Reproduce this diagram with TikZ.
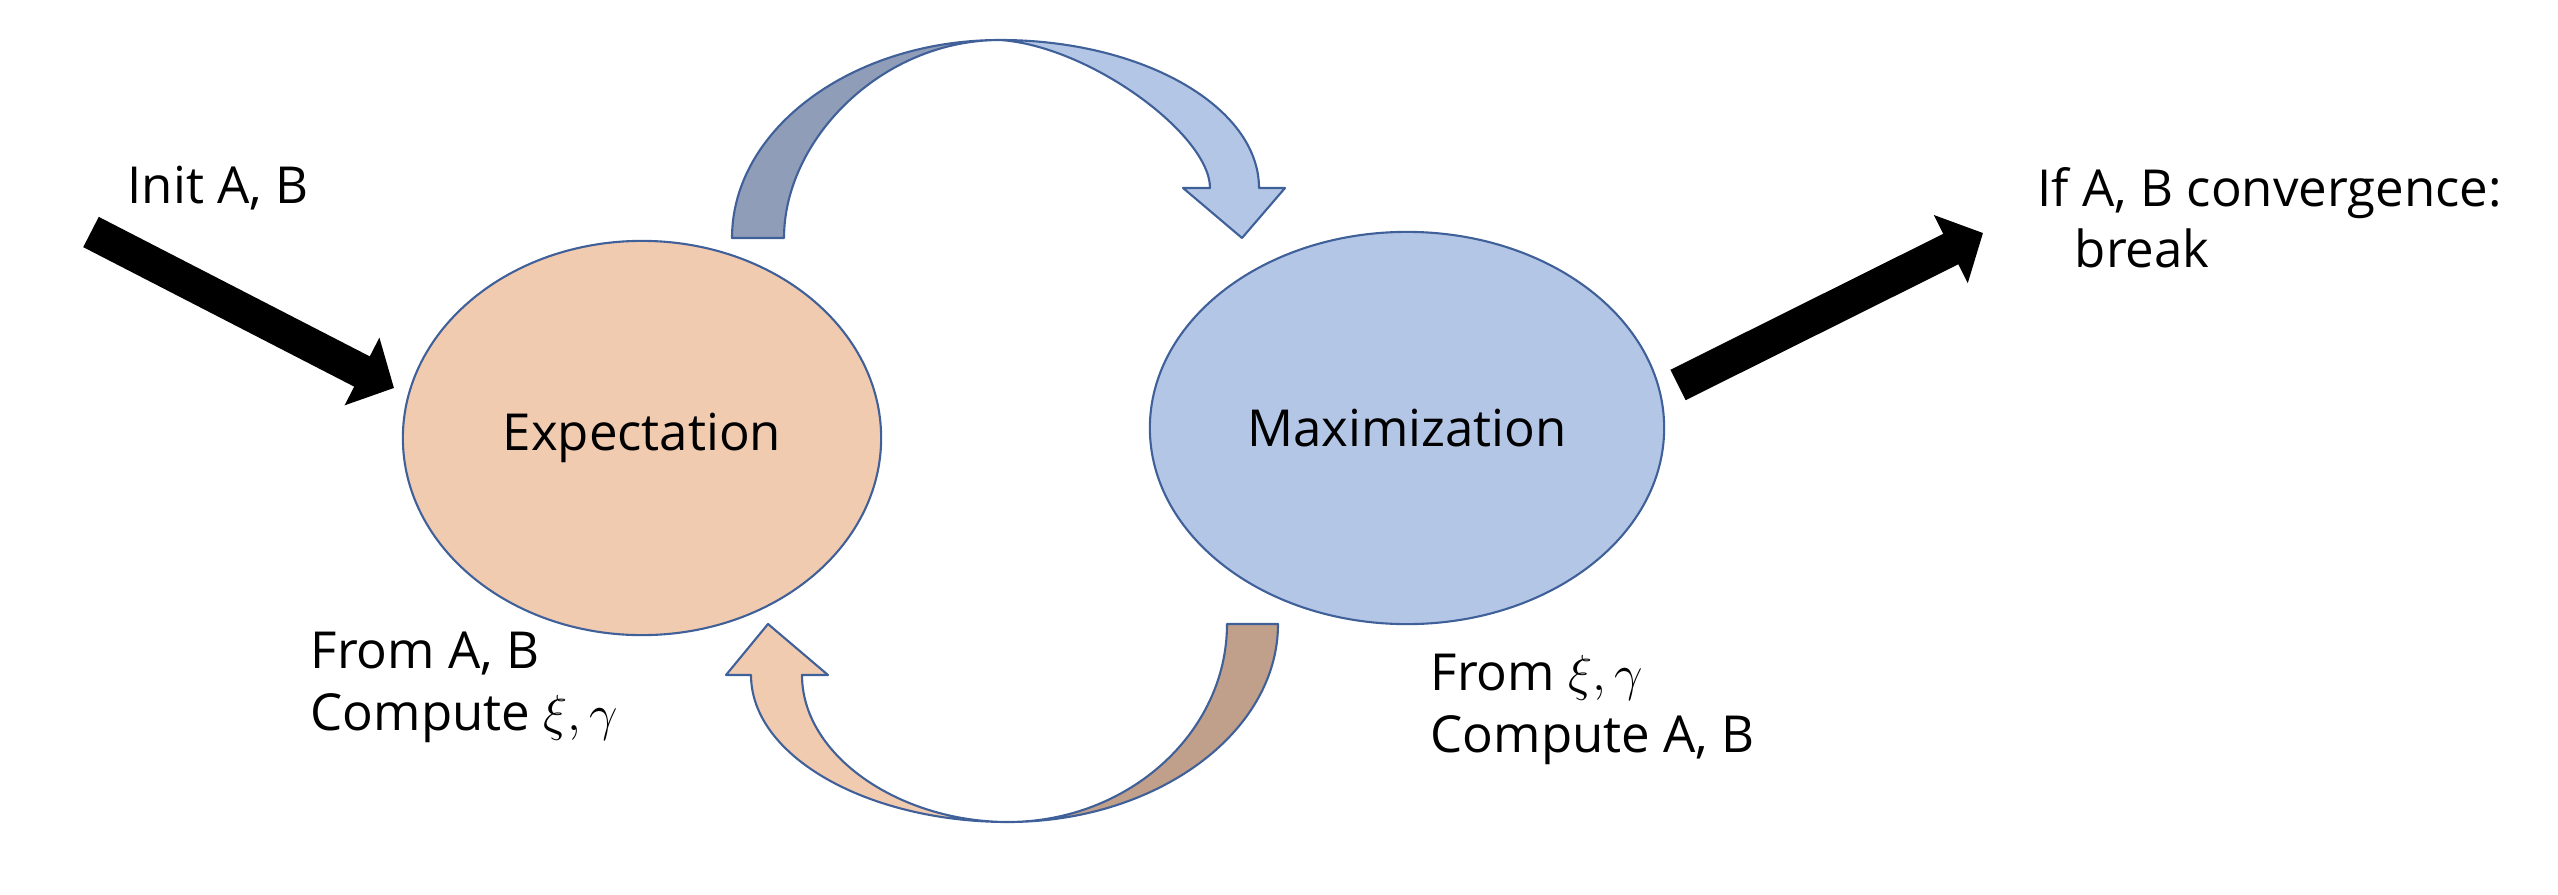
\documentclass[tikz,border=0pt]{standalone}
\usepackage{fontspec}
\setmainfont{Open Sans}
\usepackage{xcolor}
\usepackage{tikz}
\usetikzlibrary{shapes.geometric,positioning,calc,arrows.meta}

\definecolor{peach}{HTML}{F1CBAF}
\definecolor{peachdark}{HTML}{C0A08A}
\definecolor{sky}{HTML}{B4C6E5}
\definecolor{skydark}{HTML}{8F9DB8}
\definecolor{rim}{HTML}{40609A}

\tikzset{
  stage/.style={ellipse, draw=rim, line width=0.6pt, inner sep=0pt,
    font=\fontsize{14.5}{17}\selectfont},
  lbl/.style={font=\fontsize{14.5}{17.6}\selectfont, inner sep=0pt,
    align=left, anchor=base west},
  bigarrow/.style={line width=0.34cm, -{Triangle[length=0.36cm,width=0.74cm]}},
  face/.style={draw=rim, line width=0.6pt, line join=round}
}

\begin{document}
\begin{tikzpicture}[x=0.01cm, y=-0.01cm]
        \useasboundingbox (0,0) rectangle (2558,894);

        % E and M steps
        \node[stage, fill=peach, minimum width=4.78cm, minimum height=3.94cm] (E) at (642,438) {Expectation};
        \node[stage, fill=sky, minimum width=5.14cm, minimum height=3.92cm] (M) at (1407,428) {Maximization};

        % Upper curved arrow E -> M
        \draw[face, fill=skydark] (732,238) .. controls (732,129) and (852,40) .. (1000,40)
            .. controls (881,40) and (784,140) .. (784,238) -- cycle;
        \draw[face, fill=sky] (1000,40) .. controls (1143,40) and (1259,107) .. (1259,188)
            -- (1285,188) -- (1242,238) -- (1183,188) -- (1210,188)
            .. controls (1210,135) and (1090,46) .. (1000,40);

        % Lower curved arrow M -> E
        \draw[face, fill=peachdark] (1278,624) .. controls (1278,733) and (1156,822) .. (1008,822)
            .. controls (1128,822) and (1227,733) .. (1227,624) -- cycle;
        \draw[face, fill=peach] (1008,822) .. controls (867,822) and (751,756) .. (751,675)
            -- (726,675) -- (768,624) -- (828,675) -- (802,675)
            .. controls (802,756) and (900,822) .. (1008,822);

        % Input and output
        \coordinate (initTail) at (91,232);
        \coordinate (initTip) at (394,388);
        \coordinate (doneTail) at (1678,385);
        \coordinate (doneTip) at (1983,233);
        \draw[bigarrow] (initTail) -- (initTip);
        \draw[bigarrow] (doneTail) -- (doneTip);

        % Texts
        \node[lbl] (init) at (127,203) {Init A, B};
        \node[lbl] (stop) at (2037,268) {If A, B convergence:\\\hspace{0.37cm}break};
        \node[lbl] (estep) at (310,730) {From A, B\\Compute $\xi,\gamma$};
        \node[lbl] (mstep) at (1430,752) {From $\xi,\gamma$\\Compute A, B};
    \end{tikzpicture}
\end{document}
